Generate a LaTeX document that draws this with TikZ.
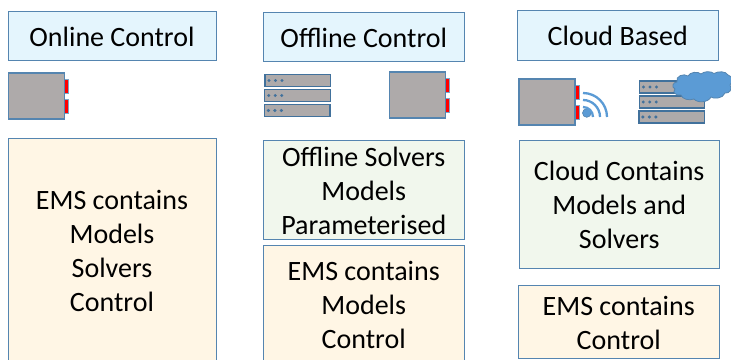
\documentclass[tikz,border=0pt]{standalone}
\usepackage{fontspec}
\setmainfont{Carlito}
\definecolor{edgeblue}{HTML}{5585B0}
\definecolor{darkedge}{HTML}{41719C}
\definecolor{titlefill}{HTML}{E4F5FD}
\definecolor{creamfill}{HTML}{FFF6E5}
\definecolor{greenfill}{HTML}{F1F7ED}
\definecolor{devgrey}{HTML}{AEAAAA}
\definecolor{cloudblue}{HTML}{5B9BD5}
\tikzset{
  x=1pt,y=-1pt,
  panel/.style={draw=edgeblue,line width=1pt,font=\fontsize{28}{34}\selectfont,align=center,inner sep=0pt},
  titlebox/.style={panel,fill=titlefill},
  emsbox/.style={panel,fill=creamfill},
  solverbox/.style={panel,fill=greenfill},
  dev/.style={draw=edgeblue,line width=1.1pt,fill=devgrey},
  tab/.style={draw=edgeblue!75,line width=1pt,fill=red},
  rack/.style={draw=darkedge,line width=1.2pt,fill=devgrey},
  led/.style={fill=darkedge,draw=none},
}
\newcommand{\panelbox}[7]{% name style x0 y0 x1 y1 text
  \draw[#2] (#3,#4) rectangle (#5,#6);
  \node[#2,draw=none,fill=none] (#1) at ({(#3+#5)/2},{(#4+#6)/2+1}) {#7};
}
\newcommand{\device}[2]{%
  \begin{scope}[shift={(#1,#2)}]
    \draw[tab] (56,6.5) rectangle (60,20);
    \draw[tab] (56,26.5) rectangle (60,40);
    \draw[dev] (0,0) rectangle (56,46);
  \end{scope}
}
\newcommand{\rackset}[2]{%
  \begin{scope}[shift={(#1,#2)}]
    \foreach \yy/\dx in {0/0,15/-0.3,30/-0.6} {
      \draw[rack] (\dx,\yy) rectangle ({65.5+\dx},{\yy+12});
      \foreach \xx in {4,10.5,17} \fill[led] ({\xx+\dx},{\yy+6}) circle (1.7);
    }
  \end{scope}
}
\begin{document}
\begin{tikzpicture}
\useasboundingbox (0,0) rectangle (731,359);
\panelbox{t1}{titlebox}{8}{11}{216}{60}{Online Control}
\panelbox{t2}{titlebox}{263.5}{12}{464}{61.5}{Offline Control}
\panelbox{t3}{titlebox}{517.5}{10.5}{718}{60}{Cloud Based}
\panelbox{a}{emsbox}{8}{138}{216}{362}{EMS contains\\Models\\Solvers\\Control}
\panelbox{b}{solverbox}{263.5}{140.5}{464}{239.5}{Offline Solvers\\Models\\Parameterised}
\panelbox{c}{emsbox}{263.5}{245}{464}{362}{EMS contains\\Models\\Control}
\panelbox{d}{solverbox}{519.5}{140.5}{719}{268}{Cloud Contains\\Models and\\Solvers}
\panelbox{e}{emsbox}{518.5}{285.5}{719}{358}{EMS contains\\Control}
\device{8.5}{73}
\device{389.5}{72}
\device{519}{79}
\rackset{265}{74.5}
\rackset{639.5}{81}
% wifi
\fill[cloudblue,draw=edgeblue,line width=.6pt] (586.8,113) circle (4.3);
\foreach \r in {10,17,24}
  \draw[cloudblue,line width=2.3pt] (583,{117-\r}) arc[start angle=-90,end angle=0,radius=\r];
% cloud
\draw[fill=cloudblue,draw=edgeblue,line width=.8pt]
 (677,82) .. controls (675,76) and (684,73) .. (688,76)
 .. controls (690,72) and (698,71) .. (701,74)
 .. controls (704,71) and (711,71) .. (714,73.5)
 .. controls (718,71) and (726,71) .. (728,75)
 .. controls (733,76) and (733,82) .. (730,85)
 .. controls (733,89) and (729,94) .. (725,93)
 .. controls (723,99) and (713,99) .. (711,97)
 .. controls (708,103) and (697,103) .. (694,99)
 .. controls (689,101) and (682,99) .. (681,95)
 .. controls (676,96) and (672,92) .. (675,89)
 .. controls (671,87) and (673,82) .. (677,82) -- cycle;
\end{tikzpicture}
\end{document}
